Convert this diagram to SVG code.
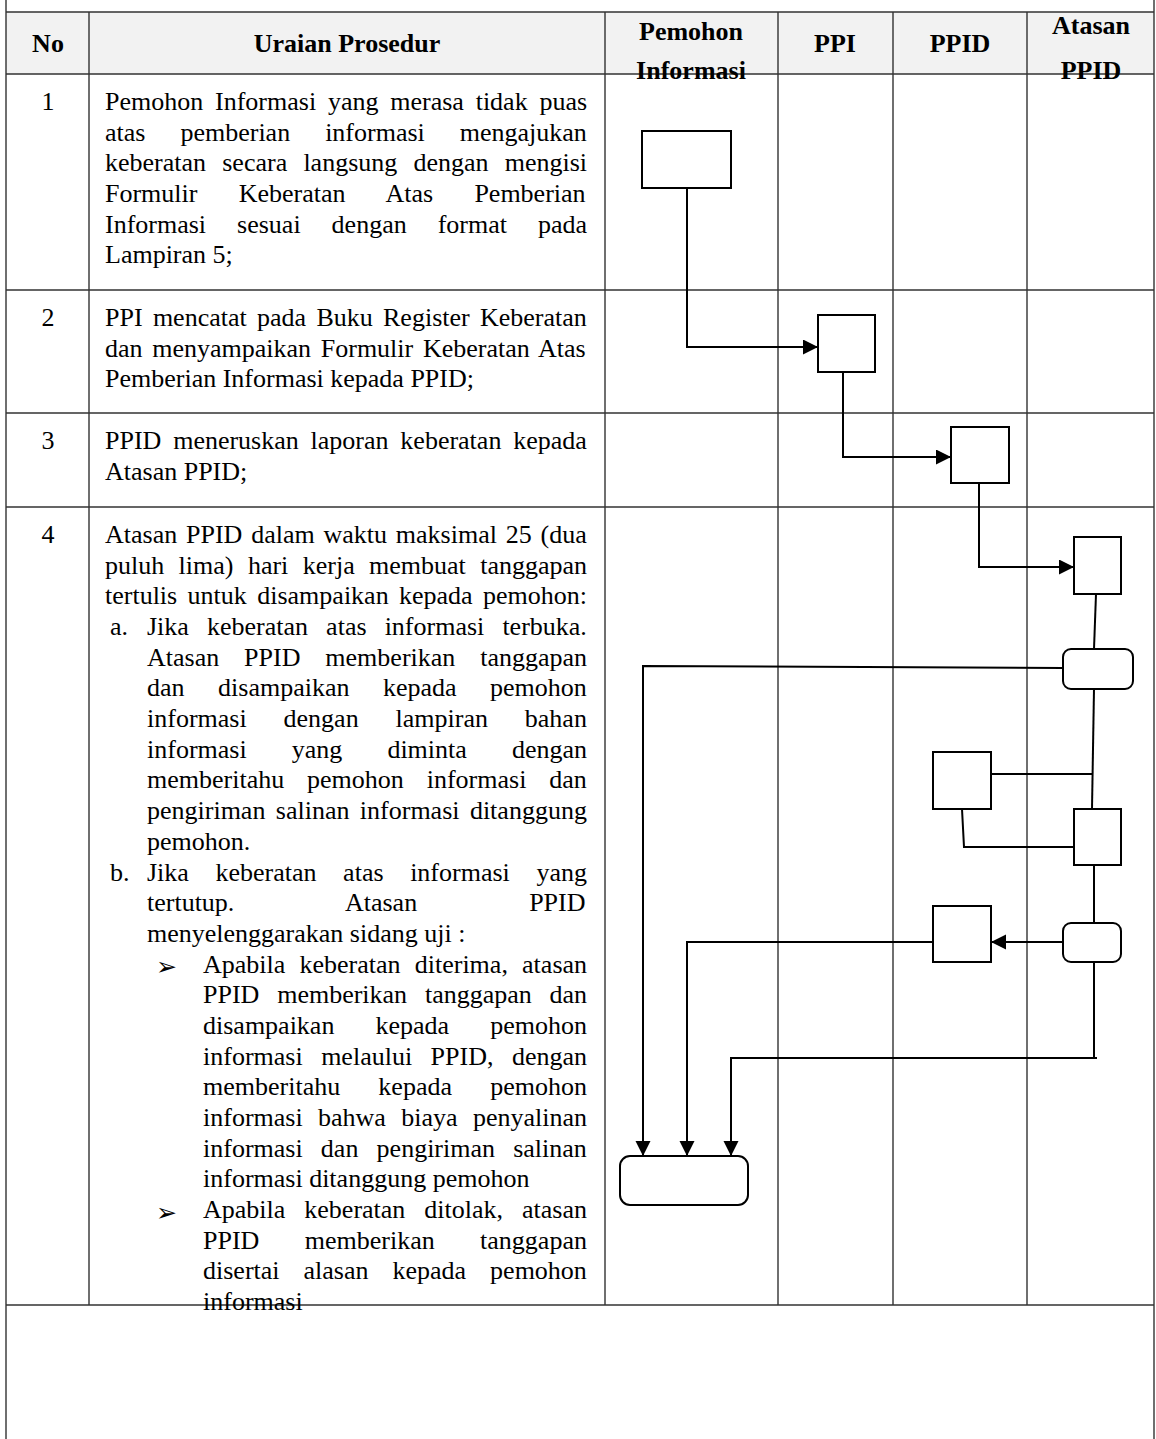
<svg xmlns="http://www.w3.org/2000/svg" width="1156" height="1439" viewBox="0 0 1156 1439">
<style>
.t{font-family:"Liberation Serif","Times New Roman",serif;font-size:26px;fill:#000}
.h{font-family:"Liberation Serif","Times New Roman",serif;font-size:26px;font-weight:bold;fill:#000;text-anchor:middle}
.c{text-anchor:middle}
.bl{font-family:"DejaVu Sans",sans-serif;font-size:25px;fill:#000}
.grid{stroke:#333;stroke-width:1.4;fill:none}
.box{fill:#fff;stroke:#000;stroke-width:2}
.ln{fill:none;stroke:#000;stroke-width:2}
</style>
<defs>
<marker id="ah" markerUnits="userSpaceOnUse" markerWidth="16" markerHeight="16" refX="15" refY="7.5" orient="auto">
<path d="M0,0 L15,7.5 L0,15 Z" fill="#000"/>
</marker>
</defs>
<rect width="1156" height="1439" fill="#fff"/>
<g id="table">
<rect x="6" y="12" width="1148" height="62" fill="#f2f2f2"/>
<path class="grid" d="M6,0V1439 M1154,0V1439 M6,12H1154 M6,74H1154 M6,290H1154 M6,413H1154 M6,507H1154 M6,1305H1154 M89,12V1305 M605,12V1305 M778,12V1305 M893,12V1305 M1027,12V1305"/>
</g>
<g id="header">
<text class="h" x="48" y="52">No</text>
<text class="h" x="347" y="52">Uraian Prosedur</text>
<text class="h" x="691" y="40">Pemohon</text>
<text class="h" x="691" y="79">Informasi</text>
<text class="h" x="835" y="52">PPI</text>
<text class="h" x="960" y="52">PPID</text>
<text class="h" x="1091" y="34">Atasan</text>
<text class="h" x="1091" y="79">PPID</text>
</g>
<g id="row1">
<text class="t c" x="48" y="110">1</text>
<text class="t" x="105" y="110" word-spacing="5.3">Pemohon Informasi yang merasa tidak puas</text>
<text class="t" x="105" y="140.7" word-spacing="28.5">atas pemberian informasi mengajukan</text>
<text class="t" x="105" y="171.4" word-spacing="9.7">keberatan secara langsung dengan mengisi</text>
<text class="t" x="105" y="202" word-spacing="34.8">Formulir Keberatan Atas Pemberian</text>
<text class="t" x="105" y="232.7" word-spacing="24.5">Informasi sesuai dengan format pada</text>
<text class="t" x="105" y="263.4">Lampiran 5;</text>
</g>
<g id="row2">
<text class="t c" x="48" y="326">2</text>
<text class="t" x="105" y="326" word-spacing="3.8">PPI mencatat pada Buku Register Keberatan</text>
<text class="t" x="105" y="356.7" word-spacing="3.2">dan menyampaikan Formulir Keberatan Atas</text>
<text class="t" x="105" y="387.4">Pemberian Informasi kepada PPID;</text>
</g>
<g id="row3">
<text class="t c" x="48" y="449">3</text>
<text class="t" x="105" y="449" word-spacing="5.3">PPID meneruskan laporan keberatan kepada</text>
<text class="t" x="105" y="479.7">Atasan PPID;</text>
</g>
<g id="row4">
<text class="t c" x="48" y="543">4</text>
<text class="t" x="105" y="543" word-spacing="2.3">Atasan PPID dalam waktu maksimal 25 (dua</text>
<text class="t" x="105" y="573.7" word-spacing="7.9">puluh lima) hari kerja membuat tanggapan</text>
<text class="t" x="105" y="604.4" word-spacing="3.9">tertulis untuk disampaikan kepada pemohon:</text>
<text class="t" x="110" y="635">a.</text>
<text class="t" x="147" y="635" word-spacing="11.6">Jika keberatan atas informasi terbuka.</text>
<text class="t" x="147" y="665.7" word-spacing="18.4">Atasan PPID memberikan tanggapan</text>
<text class="t" x="147" y="696.4" word-spacing="27">dan disampaikan kepada pemohon</text>
<text class="t" x="147" y="727.1" word-spacing="30.4">informasi dengan lampiran bahan</text>
<text class="t" x="147" y="757.8" word-spacing="38.6">informasi yang diminta dengan</text>
<text class="t" x="147" y="788.4" word-spacing="16.4">memberitahu pemohon informasi dan</text>
<text class="t" x="147" y="819.1" word-spacing="3.9">pengiriman salinan informasi ditanggung</text>
<text class="t" x="147" y="849.8">pemohon.</text>
<text class="t" x="110" y="880.5">b.</text>
<text class="t" x="147" y="880.5" word-spacing="20.1">Jika keberatan atas informasi yang</text>
<text class="t" x="147" y="911.2" word-spacing="105.5">tertutup. Atasan PPID</text>
<text class="t" x="147" y="941.8">menyelenggarakan sidang uji :</text>
<text class="bl" x="156" y="975">➢</text>
<text class="t" x="203" y="972.5" word-spacing="7.7">Apabila keberatan diterima, atasan</text>
<text class="t" x="203" y="1003.2" word-spacing="11.3">PPID memberikan tanggapan dan</text>
<text class="t" x="203" y="1033.9" word-spacing="34.6">disampaikan kepada pemohon</text>
<text class="t" x="203" y="1064.6" word-spacing="12">informasi melaului PPID, dengan</text>
<text class="t" x="203" y="1095.2" word-spacing="31.7">memberitahu kepada pemohon</text>
<text class="t" x="203" y="1125.9" word-spacing="8.9">informasi bahwa biaya penyalinan</text>
<text class="t" x="203" y="1156.6" word-spacing="11.7">informasi dan pengiriman salinan</text>
<text class="t" x="203" y="1187.3">informasi ditanggung pemohon</text>
<text class="bl" x="156" y="1220.5">➢</text>
<text class="t" x="203" y="1218" word-spacing="12.5">Apabila keberatan ditolak, atasan</text>
<text class="t" x="203" y="1248.6" word-spacing="38.9">PPID memberikan tanggapan</text>
<text class="t" x="203" y="1279.3" word-spacing="17.5">disertai alasan kepada pemohon</text>
<text class="t" x="203" y="1310">informasi</text>
</g>
<g id="connectors">
<path class="ln" d="M687,188 V347 H818" marker-end="url(#ah)"/>
<path class="ln" d="M843,372 V457 H951" marker-end="url(#ah)"/>
<path class="ln" d="M979,483 V567 H1074" marker-end="url(#ah)"/>
<path class="ln" d="M1096,594 L1094,649"/>
<path class="ln" d="M1063,668 L643,666 V1156" marker-end="url(#ah)"/>
<path class="ln" d="M1094,689 L1092,809"/>
<path class="ln" d="M991,774 H1093"/>
<path class="ln" d="M962,809 L964,847 H1074"/>
<path class="ln" d="M1094,865 V923"/>
<path class="ln" d="M1063,942 H991" marker-end="url(#ah)"/>
<path class="ln" d="M933,942 H687 V1156" marker-end="url(#ah)"/>
<path class="ln" d="M1094,962 V1058 M1097,1058 H731 V1156" marker-end="url(#ah)"/>
</g>
<g id="n1"><rect class="box" x="642" y="131" width="89" height="57"/></g>
<g id="n2"><rect class="box" x="818" y="315" width="57" height="57"/></g>
<g id="n3"><rect class="box" x="951" y="427" width="58" height="56"/></g>
<g id="n4"><rect class="box" x="1074" y="537" width="47" height="57"/></g>
<g id="n5"><rect class="box" x="1063" y="649" width="70" height="40" rx="8"/></g>
<g id="n6"><rect class="box" x="933" y="752" width="58" height="57"/></g>
<g id="n7"><rect class="box" x="1074" y="809" width="47" height="56"/></g>
<g id="n8"><rect class="box" x="1063" y="923" width="58" height="39" rx="8"/></g>
<g id="n9"><rect class="box" x="933" y="906" width="58" height="56"/></g>
<g id="n10"><rect class="box" x="620" y="1156" width="128" height="49" rx="10"/></g>
</svg>
